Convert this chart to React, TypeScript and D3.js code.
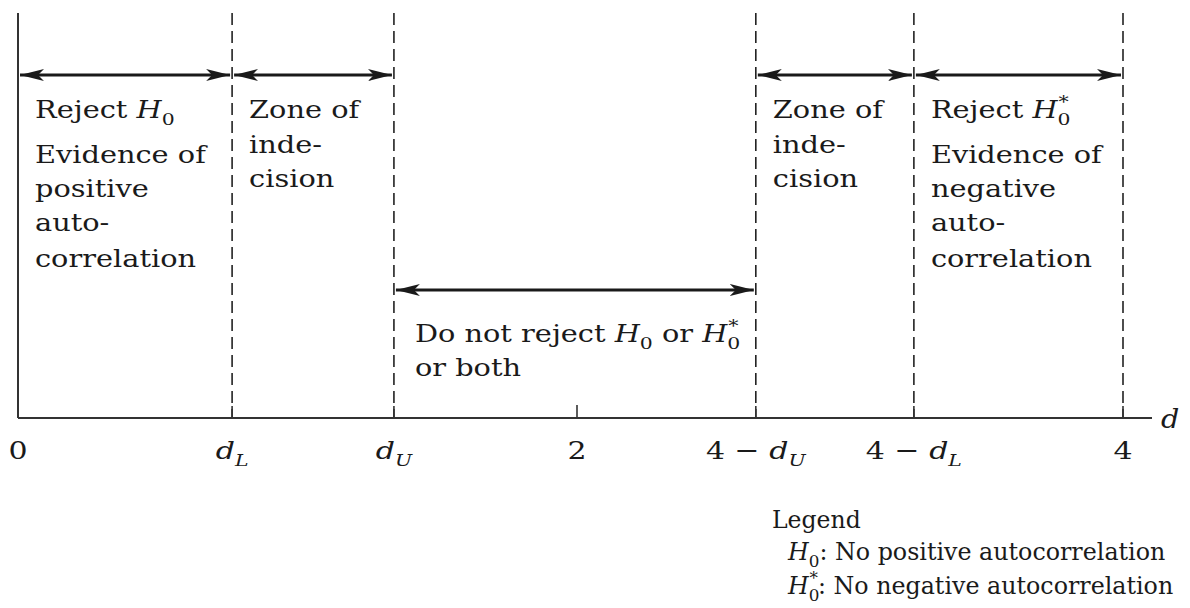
import React from 'react';
import * as d3 from 'd3';

const W = 1190;
const H = 608;

// Durbin-Watson critical values (symbolic; positions)
const dL = 0.766;
const dU = 1.345;

const tickValues = [0, dL, dU, 2, 4 - dU, 4 - dL, 4];
const tickLabels = ['0', '{dL}', '{dU}', '2', '4 − {dU}', '4 − {dL}', '4'];
const dashedValues = [dL, dU, 4 - dU, 4 - dL, 4];

const upperSpans = [
  [0, dL],
  [dL, dU],
  [4 - dU, 4 - dL],
  [4 - dL, 4],
];
const lowerSpans = [[dU, 4 - dU]];

const zoneStarts = [0, dL, 4 - dU, 4 - dL];
const zoneLines = [
  ['Reject {H0}', 'Evidence of', 'positive', 'auto-', 'correlation'],
  ['Zone of', 'inde-', 'cision'],
  ['Zone of', 'inde-', 'cision'],
  ['Reject {H0*}', 'Evidence of', 'negative', 'auto-', 'correlation'],
];
const middleLines = ['Do not reject {H0} or {H0*}', 'or both'];

const legendTitle = 'Legend';
const legendRows = ['{H0}: No positive autocorrelation', '{H0*}: No negative autocorrelation'];

const FONT = "'DejaVu Serif', 'Liberation Serif', serif";
const FS = 24;
const SUB = 17;
const INK = '#1a1a1a';

// Render "{H0}" / "{H0*}" / "{dL}" style tokens as italic + subscript tspans
function rich(str: string) {
  const parts = str.split(/(\{[^}]+\})/).filter((p) => p !== '');
  const out: React.ReactNode[] = [];
  let shift = 0;
  parts.forEach((p, i) => {
    if (p.startsWith('{')) {
      const tok = p.slice(1, -1);
      const star = tok.endsWith('*');
      const main = tok[0];
      const sub = tok.slice(1).replace('*', '');
      out.push(
        <tspan key={i + 'm'} fontStyle="italic" dy={-shift}>
          {main}
        </tspan>
      );
      out.push(
        <tspan key={i + 's'} fontSize={SUB} fontStyle={sub === '0' ? 'normal' : 'italic'} dy={7}>
          {sub}
        </tspan>
      );
      shift = 7;
      if (star) {
        out.push(
          <tspan key={i + 'x'} fontSize={SUB} dx={-10} dy={-17}>
            *
          </tspan>
        );
        shift = -10;
      }
    } else {
      out.push(
        <tspan key={i} dy={-shift} style={{ whiteSpace: 'pre' }}>
          {p}
        </tspan>
      );
      shift = 0;
    }
  });
  return out;
}

// text horizontally stretched to match the wide book face of the original
function Txt({ x, y, k = 1.2, anchor = 'start', size = FS, children }: any) {
  return (
    <text
      transform={`translate(${x},${y}) scale(${k},1)`}
      textAnchor={anchor}
      fontSize={size}
      style={{ whiteSpace: 'pre' }}
    >
      {children}
    </text>
  );
}

export default function App() {
  const x = d3.scaleLinear().domain([0, 2, 4]).range([18, 577, 1123]);

  const yTop = 13;
  const yAxis = 418;
  const yUpper = 75;
  const yLower = 290;

  const zoneBaselinesLong = [118, 163, 197, 231, 267];
  const zoneBaselinesShort = [118, 153, 187];

  return (
    <svg
      width={W}
      height={H}
      style={{ position: 'absolute', left: 0, top: 0, background: '#fff' }}
      fontFamily={FONT}
      fontSize={FS}
      fill={INK}
    >
      <defs>
        <marker
          id="ah"
          viewBox="0 0 24 12"
          refX={24}
          refY={6}
          markerWidth={24}
          markerHeight={12}
          markerUnits="userSpaceOnUse"
          orient="auto-start-reverse"
        >
          <path d="M0,0 L24,6 L0,12 L6,6 Z" fill={INK} />
        </marker>
      </defs>

      {/* vertical axis */}
      <line x1={x(0)} x2={x(0)} y1={yTop} y2={yAxis} stroke="#333" strokeWidth={2} />

      {/* dashed boundaries */}
      {dashedValues.map((v, i) => (
        <line
          key={i}
          x1={x(v)}
          x2={x(v)}
          y1={yTop}
          y2={yAxis}
          stroke="#222"
          strokeWidth={1.6}
          strokeDasharray="12,6"
        />
      ))}

      {/* horizontal axis */}
      <line x1={x(0)} x2={1152} y1={yAxis} y2={yAxis} stroke="#333" strokeWidth={2} />
      <line x1={x(2)} x2={x(2)} y1={yAxis - 13} y2={yAxis} stroke="#333" strokeWidth={1.6} />
      {dashedValues.map((v, i) => (
        <line key={'t' + i} x1={x(v)} x2={x(v)} y1={yAxis - 12} y2={yAxis} stroke="#333" strokeWidth={1.6} />
      ))}
      <Txt x={1161} y={428} k={1.1} size={26}>
        <tspan fontStyle="italic">d</tspan>
      </Txt>

      {/* tick labels */}
      {tickValues.map((v, i) => (
        <Txt key={i} x={x(v)} y={459} anchor="middle" k={1.2} size={25}>
          {rich(tickLabels[i])}
        </Txt>
      ))}

      {/* span arrows */}
      {upperSpans.map(([a, b], i) => (
        <line
          key={'u' + i}
          x1={x(a) + 2}
          x2={x(b) - 2}
          y1={yUpper}
          y2={yUpper}
          stroke={INK}
          strokeWidth={3}
          markerStart="url(#ah)"
          markerEnd="url(#ah)"
        />
      ))}
      {lowerSpans.map(([a, b], i) => (
        <line
          key={'l' + i}
          x1={x(a) + 2}
          x2={x(b) - 2}
          y1={yLower}
          y2={yLower}
          stroke={INK}
          strokeWidth={3}
          markerStart="url(#ah)"
          markerEnd="url(#ah)"
        />
      ))}

      {/* zone texts */}
      {zoneLines.map((lines, zi) => {
        const bl = lines.length > 3 ? zoneBaselinesLong : zoneBaselinesShort;
        return lines.map((ln, li) => (
          <Txt key={zi + '-' + li} x={x(zoneStarts[zi]) + 17} y={bl[li]}>
            {rich(ln)}
          </Txt>
        ));
      })}

      {/* middle text */}
      {middleLines.map((ln, i) => (
        <Txt key={'m' + i} x={x(dU) + 21} y={342 + i * 34}>
          {rich(ln)}
        </Txt>
      ))}

      {/* legend */}
      <Txt x={772} y={528} k={0.98} size={24}>
        {legendTitle}
      </Txt>
      {legendRows.map((row, i) => (
        <Txt key={'lg' + i} x={788} y={560 + i * 34} k={0.99} size={24}>
          {rich(row)}
        </Txt>
      ))}
    </svg>
  );
}
